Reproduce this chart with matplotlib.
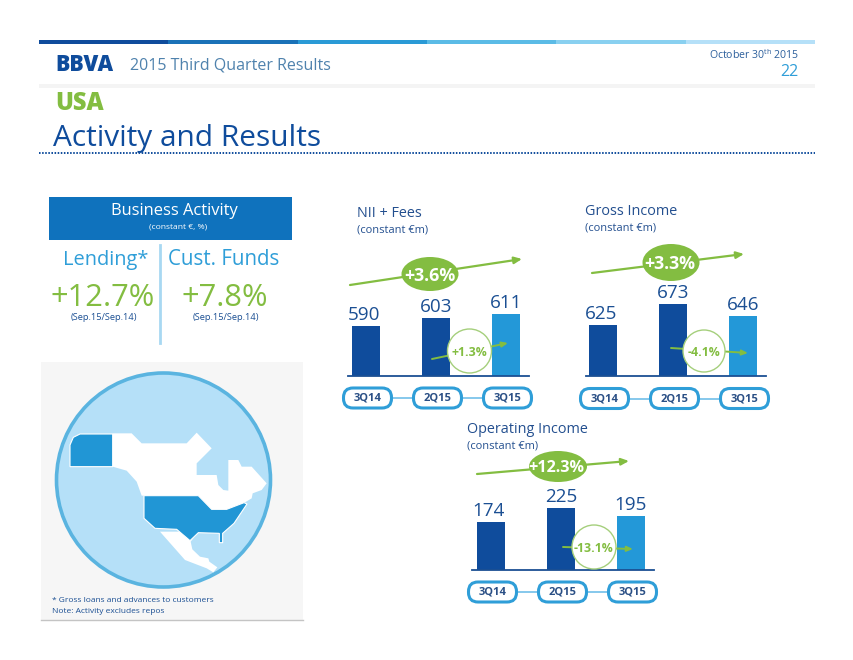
import matplotlib
matplotlib.use("Agg")
import matplotlib.pyplot as plt
from matplotlib.patches import Polygon, Circle, Ellipse, Rectangle, FancyBboxPatch

plt.rcParams['font.family'] = ['Open Sans', 'DejaVu Sans']

W, H = 854, 660
NAVY = '#0f4c9c'; MID = '#2398d8'; GREEN = '#83bd41'; TXT = '#1b4f93'; LB = '#2f9ed8'

periods = ['3Q14', '2Q15', '3Q15']
nii_values = [590, 603, 611]
gross_values = [625, 673, 646]
oper_values = [174, 225, 195]
bar_colors = [NAVY, NAVY, MID]

fig = plt.figure(figsize=(W / 100, H / 100), dpi=100, facecolor='white')
bg = fig.add_axes([0, 0, 1, 1])
bg.set_xlim(0, W); bg.set_ylim(H, 0); bg.axis('off')


def txt(x, y, s, size, color=TXT, ha='left', va='center', weight='normal', ax=bg, z=10):
    ax.text(x, y + size * 0.13, s, fontsize=size, color=color, ha=ha, va=va, fontweight=weight, zorder=z)


# header
seg_edges = [39, 168, 298, 427, 556, 686, 815]
seg_cols = [NAVY, '#1a72b8', '#2a9ad6', '#5bbbe6', '#89d0f0', '#b5e0f8']
for i, c in enumerate(seg_cols):
    bg.add_patch(Rectangle((seg_edges[i], 39.5), seg_edges[i + 1] - seg_edges[i], 4, fc=c, ec='none'))
bg.add_patch(Rectangle((39, 84), 776, 4, fc='#f4f4f4', ec='none'))
txt(55, 63, 'BBVA', 15.5, color=NAVY, weight='heavy')
txt(130, 64, '2015 Third Quarter Results', 11.5, color='#4f82ad')
bg.text(799, 55, 'October 30$^{\\mathregular{th}}$ 2015', fontsize=7.6, color='#2c5f9c', ha='right', va='center')
txt(799, 71, '22', 11.5, color=LB, ha='right')
txt(55, 101, 'USA', 17, color=GREEN, weight='heavy')
txt(53, 136, 'Activity and Results', 21.5, color=NAVY, weight='medium')
bg.plot([39, 815], [153, 153], color=NAVY, lw=1.4, ls=(0, (0.8, 0.8)))

# business activity box
bg.add_patch(Rectangle((49, 197), 243, 43, fc='#0f72bd', ec='none'))
txt(174.5, 209, 'Business Activity', 11.9, color='white', ha='center')
txt(178, 226, '(constant €, %)', 6.1, color='white', ha='center')
txt(106, 258, 'Lending*', 14.4, color=LB, ha='center')
txt(224, 258, 'Cust. Funds', 14.8, color=LB, ha='center')
txt(103, 295, '+12.7%', 22.2, color=GREEN, ha='center')
txt(225, 295, '+7.8%', 22.2, color=GREEN, ha='center')
txt(104, 317, '(Sep.15/Sep.14)', 6.7, color=TXT, ha='center')
txt(226, 317, '(Sep.15/Sep.14)', 6.7, color=TXT, ha='center')
bg.plot([160, 160], [245, 343], color='#a8d8f2', lw=2)

# map panel
bg.add_patch(Rectangle((41, 362), 262, 258, fc='#f6f6f6', ec='none'))
bg.plot([41, 303], [620, 620], color='#c4c4c4', lw=1)
bg.add_patch(Circle((163.5, 480), 107, fc='#b5e0f8', ec='#5ab4e0', lw=2.6))


def zp(pts):
    return [(30 + x / 3, 350 + y / 3) for x, y in pts]


land = [(248, 250), (305, 250), (335, 280), (470, 280), (500, 248), (545, 295), (500, 340), (500, 375),
        (560, 375), (565, 405), (580, 420), (595, 422), (595, 330), (625, 330), (635, 350), (665, 350),
        (710, 400), (695, 420), (668, 430), (665, 445), (640, 460), (590, 480), (545, 480), (505, 437),
        (335, 437), (320, 395), (290, 362), (248, 350)]
mexico = [(390, 545), (505, 545), (482, 575), (487, 598), (510, 620), (535, 625), (538, 635), (562, 652),
          (550, 667), (530, 655), (465, 630)]
us = [(342, 437), (505, 437), (545, 478), (590, 478), (642, 458), (651, 462), (612, 520), (578, 550),
      (578, 578), (568, 578), (568, 550), (505, 548), (480, 572), (440, 538), (375, 535), (342, 505)]
alaska = [(120, 350), (120, 285), (130, 262), (150, 252), (248, 252), (248, 350)]
for pts, c in [(land, 'white'), (mexico, 'white')]:
    bg.add_patch(Polygon(zp(pts), fc=c, ec='none', zorder=3))
for pts in (us, alaska):
    bg.add_patch(Polygon(zp(pts), fc='#2196d5', ec='white', lw=0.8, zorder=4))
txt(52, 600, '* Gross loans and advances to customers', 6.0)
txt(52, 611, 'Note: Activity excludes repos', 6.0)


def panel(left, base, values, floor, scale, title, title_x, title_y, big, big_xy, big_size, big_text_x, big_fs,
          arrow, small, small_xy, small_r, small_arrow, pill_y, base_span):
    bar_w_px, spacing = 28, 70
    ax_h = 90
    x0 = left - base_span[0]
    ax_w = base_span[1] - base_span[0]
    ax = fig.add_axes([base_span[0] / W, (H - base) / H, ax_w / W, ax_h / H])
    ax.patch.set_alpha(0)
    ax.set_xlim(-x0 / spacing, (ax_w - x0) / spacing)
    ax.set_ylim(floor, floor + ax_h / scale)
    ax.bar(range(3), values, width=bar_w_px / spacing, color=bar_colors, zorder=2)
    for i, v in enumerate(values):
        ax.annotate(str(v), (i, v), xytext=(-1.5 if i == 0 else 0, 8), textcoords='offset points',
                    ha='center', va='center', fontsize=13.6, color=TXT, annotation_clip=False)
    for s in ('top', 'left', 'right'):
        ax.spines[s].set_visible(False)
    ax.spines['bottom'].set_color(TXT); ax.spines['bottom'].set_linewidth(1.3)
    ax.set_xticks([]); ax.set_yticks([])

    txt(title_x, title_y, title, 10.4, color='#234f8f')
    txt(title_x, title_y + 17, '(constant €m)', 7.9, color='#234f8f')

    # trend arrow with the big ellipse
    bg.annotate('', xy=arrow[1], xytext=arrow[0],
                arrowprops=dict(arrowstyle='-|>,head_length=0.45,head_width=0.2', color=GREEN, lw=1.6,
                                shrinkA=0, shrinkB=0), zorder=5)
    bg.add_patch(Ellipse(big_xy, big_size[0], big_size[1], fc=GREEN, ec='none', zorder=6))
    txt(big_text_x, big_xy[1], big, big_fs, color='white', ha='center', weight='bold', z=12)

    # small trend with the white circle (drawn over the bars)
    top = fig.add_axes([0, 0, 1, 1]); top.set_xlim(0, W); top.set_ylim(H, 0); top.axis('off')
    top.patch.set_alpha(0)
    top.annotate('', xy=small_arrow[1], xytext=small_arrow[0],
                 arrowprops=dict(arrowstyle='-|>,head_length=0.35,head_width=0.15', color=GREEN, lw=1.4,
                                 shrinkA=0, shrinkB=0), zorder=5)
    top.add_patch(Circle(small_xy, small_r, fc='white', ec='#a5cf7c', lw=1, zorder=6))
    txt(small_xy[0], small_xy[1], small, 8.8, color=GREEN, ha='center', weight='bold', ax=top, z=8)

    # period pills joined by a line
    cxs = [left + 1.5 + i * spacing for i in range(3)]
    top.plot(cxs, [pill_y] * 3, color='#7cc4ea', lw=1.3, zorder=3)
    for cx, p in zip(cxs, periods):
        top.add_patch(FancyBboxPatch((cx - 24, pill_y - 10), 48, 20, boxstyle='round,pad=0,rounding_size=9.5',
                                     fc='white', ec=LB, lw=2.2, zorder=4, mutation_aspect=1))
        txt(cx, pill_y - 1, p, 8.0, color='#2a4f85', ha='center', weight='bold', ax=top, z=8)


panel(366, 376, nii_values, 502, 0.57, 'NII + Fees', 357, 212, '+3.6%', (430, 274), (57, 34), 430, 12.8,
      ((350, 285), (522, 259)), '+1.3%', (469.5, 351), 22, ((432, 359), (508, 343)), 398, (348, 529))
panel(603, 376, gross_values, 509, 0.44, 'Gross Income', 585, 210, '+3.3%', (671, 262.5), (57, 37), 670, 12.8,
      ((592, 273), (744, 254)), '-4.1%', (704, 351), 21, ((671, 348), (748, 353)), 398.5, (586, 766))
panel(491, 570, oper_values, 0, 0.276, 'Operating Income', 467, 428, '+12.3%', (558, 466.5), (58, 31), 556, 11.6,
      ((477, 474), (629, 461)), '-13.1%', (594, 547), 22, ((563, 547), (633, 549)), 592, (472, 654))

fig.savefig('out.png', dpi=100)
